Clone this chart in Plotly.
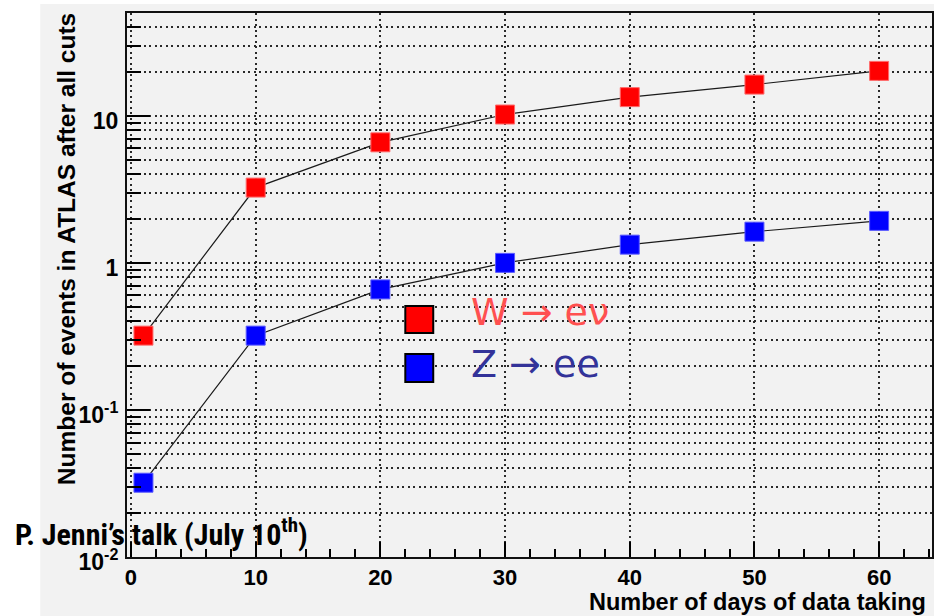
import plotly.graph_objects as go

days = [1, 10, 20, 30, 40, 50, 60]
w_events = [0.32, 3.25, 6.6, 10.2, 13.4, 16.3, 20.2]
z_events = [0.032, 0.32, 0.66, 1.0, 1.33, 1.63, 1.93]

y_major = [0.01, 0.1, 1, 10]
y_major_text = ["<b>10<sup>-2</sup></b>", "<b>10<sup>-1</sup></b>", "<b>1</b>", "<b>10</b>"]
y_minor = [m * d for d in (0.01, 0.1, 1, 10) for m in range(2, 10) if m * d <= 50]
x_major = [0, 10, 20, 30, 40, 50, 60]
x_major_text = ["<b>%d</b>" % v for v in x_major]

W, H = 936, 616
L, R, T, B = 127, 2, 13, 59
PW, PH = W - L - R, H - T - B

def px(x):
    return (x - L) / PW

def py(y):
    return (H - B - y) / PH

BG = "#f2f2f2"
FONT = "Liberation Sans, Arial, Helvetica, sans-serif"
GRID = dict(griddash="2px,3.5px", gridcolor="#2a2a2a", gridwidth=1.5)

fig = go.Figure()
fig.add_trace(go.Scatter(
    x=days, y=w_events, mode="lines+markers",
    line=dict(color="#1a1a1a", width=1.2),
    marker=dict(symbol="square", size=19, color="#ff0000",
                line=dict(color="#ff6a6a", width=1)),
    showlegend=False))
fig.add_trace(go.Scatter(
    x=days, y=z_events, mode="lines+markers",
    line=dict(color="#1a1a1a", width=1.2),
    marker=dict(symbol="square", size=19, color="#0000ff",
                line=dict(color="#5a5aff", width=1)),
    showlegend=False))

shapes = [
    dict(type="rect", xref="paper", yref="paper", layer="below",
         x0=px(40), x1=px(936), y0=py(616), y1=py(4),
         fillcolor=BG, line=dict(width=0)),
    dict(type="rect", xref="paper", yref="paper",
         x0=px(406), x1=px(434), y0=py(333), y1=py(306),
         fillcolor="#ff0000", line=dict(color="black", width=2)),
    dict(type="rect", xref="paper", yref="paper",
         x0=px(406), x1=px(434), y0=py(382), y1=py(354),
         fillcolor="#0000ff", line=dict(color="black", width=2)),
]

annotations = [
    dict(text="W \u2192 e\u03bd", xref="paper", yref="paper", x=px(470), y=py(312),
         xanchor="left", yanchor="middle", showarrow=False,
         font=dict(family="DejaVu Sans, sans-serif", size=38, color="#ff5050")),
    dict(text="Z \u2192 ee", xref="paper", yref="paper", x=px(470), y=py(364),
         xanchor="left", yanchor="middle", showarrow=False,
         font=dict(family="DejaVu Sans, sans-serif", size=38, color="#333399")),
    dict(text="<b>Number of events in ATLAS after all cuts</b>", xref="paper", yref="paper",
         x=px(66), y=py(249), textangle=-90, xanchor="center", yanchor="middle",
         showarrow=False, font=dict(family=FONT, size=24.5, color="black")),
    dict(text="<b>Number of days of data taking</b>", xref="paper", yref="paper",
         x=px(930), y=py(602), xanchor="right", yanchor="middle",
         showarrow=False, font=dict(family=FONT, size=23.5, color="black")),
    dict(text="<b>P. Jenni\u2019s talk (July 10<sup style='font-size:60%'>th</sup>)</b>",
         xref="paper", yref="paper",
         x=px(13), y=py(532), xanchor="left", yanchor="middle",
         showarrow=False,
         font=dict(family="Liberation Sans Narrow, Roboto Condensed, Liberation Sans, Arial", size=30, color="black")),
]

fig.update_layout(
    width=W, height=H,
    margin=dict(l=L, r=R, t=T, b=B, pad=0),
    paper_bgcolor="white", plot_bgcolor=BG,
    shapes=shapes, annotations=annotations,
    xaxis=dict(
        range=[-0.32, 64.24], showline=True, linecolor="#111", linewidth=2, mirror=True,
        ticks="inside", ticklen=15, tickwidth=1.5, tickcolor="black",
        tickmode="array", tickvals=x_major, ticktext=x_major_text,
        tickfont=dict(family=FONT, size=22, color="black"),
        showgrid=True, zeroline=False, **GRID,
        minor=dict(dtick=2, tick0=0, ticks="inside", ticklen=8, tickwidth=1.5,
                   tickcolor="black", showgrid=False),
    ),
    yaxis=dict(
        type="log", range=[-2, 1.699], showline=True, linecolor="#111", linewidth=2, mirror=True,
        ticks="inside", ticklen=23, tickwidth=1.5, tickcolor="black",
        tickmode="array", tickvals=y_major, ticktext=y_major_text,
        tickfont=dict(family=FONT, size=23, color="black"),
        ticklabelshift=5, ticklabelstandoff=2,
        showgrid=True, zeroline=False, **GRID,
        minor=dict(tickmode="array", tickvals=y_minor, ticks="inside", ticklen=14,
                   tickwidth=1.5, tickcolor="black", showgrid=True, **GRID),
    ),
)

fig.write_html("out.html")
